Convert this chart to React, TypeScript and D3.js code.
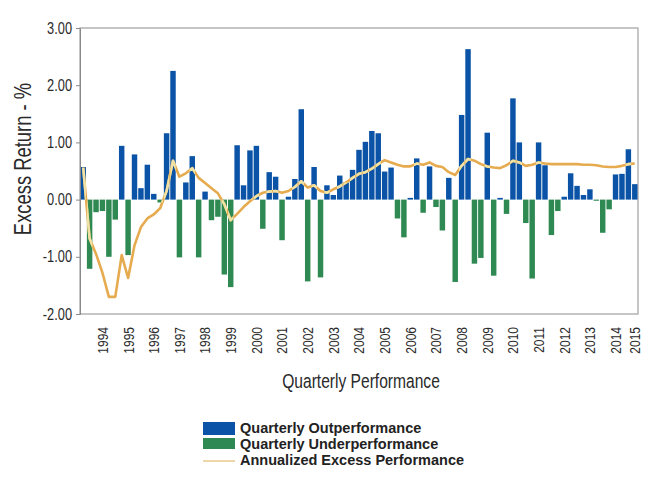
import React, { useEffect, useRef } from "react";
import * as d3 from "d3";

// Quarterly excess return (%) — one value per quarter, 1993Q2 .. 2014Q4
const quarterlyExcess = [
  0.57, -1.21, -0.22, -0.20, -1.00, -0.35, 0.94, -0.97, 0.79, 0.20,
  0.61, 0.10, -0.05, 1.16, 2.25, -1.01, 0.30, 0.76, -1.01, 0.14,
  -0.36, -0.30, -1.31, -1.53, 0.95, 0.25, 0.86, 0.94, -0.51, 0.48,
  0.40, -0.71, 0.05, 0.36, 1.58, -1.43, 0.57, -1.36, 0.25, 0.08,
  0.42, 0.30, 0.52, 0.87, 1.01, 1.20, 1.16, 0.49, 0.56, -0.33,
  -0.66, 0.03, 0.72, -0.23, 0.58, -0.13, -0.54, 0.38, -1.44, 1.48,
  2.63, -1.12, -1.02, 1.17, -1.33, 0.03, -0.25, 1.77, 1.00, -0.41,
  -1.38, 1.00, 0.60, -0.62, -0.20, 0.05, 0.46, 0.24, 0.08, 0.18,
  -0.02, -0.58, -0.17, 0.44, 0.45, 0.88, 0.27,
];

// Annualized excess performance (%) — one value per quarter
const annualizedExcess = [
  0.56, -0.68, -0.95, -1.28, -1.70, -1.70, -0.97, -1.37, -0.80, -0.48,
  -0.33, -0.26, -0.15, 0.15, 0.68, 0.40, 0.46, 0.55, 0.38, 0.29,
  0.20, 0.11, -0.08, -0.36, -0.25, -0.13, -0.03, 0.06, 0.12, 0.14,
  0.15, 0.12, 0.15, 0.22, 0.32, 0.21, 0.25, 0.15, 0.12, 0.18,
  0.23, 0.30, 0.38, 0.45, 0.48, 0.54, 0.62, 0.69, 0.65, 0.61,
  0.58, 0.58, 0.63, 0.61, 0.65, 0.59, 0.57, 0.48, 0.43, 0.59,
  0.71, 0.68, 0.62, 0.58, 0.56, 0.55, 0.60, 0.68, 0.65, 0.59,
  0.61, 0.65, 0.63, 0.62, 0.62, 0.62, 0.62, 0.62, 0.61, 0.61,
  0.60, 0.58, 0.57, 0.57, 0.59, 0.62, 0.63,
];

const firstYear = 1993;
const firstQuarter = 2;
const quarters: string[] = quarterlyExcess.map((_, i) => {
  const q = firstQuarter - 1 + i;
  return `${firstYear + Math.floor(q / 4)}Q${(q % 4) + 1}`;
});

const tickQuarters = [
  "1994Q1", "1995Q1", "1996Q1", "1997Q1", "1998Q1", "1999Q1", "2000Q1",
  "2001Q1", "2002Q1", "2003Q1", "2004Q1", "2005Q1", "2006Q1", "2007Q1",
  "2008Q1", "2009Q1", "2010Q1", "2011Q1", "2012Q1", "2013Q1", "2014Q1", "2014Q4",
];
const tickLabels = [
  "1994", "1995", "1996", "1997", "1998", "1999", "2000", "2001", "2002", "2003",
  "2004", "2005", "2006", "2007", "2008", "2009", "2010", "2011", "2012", "2013",
  "2014", "2015",
];
const yTicks = [-2, -1, 0, 1, 2, 3];

const legendLabels = [
  "Quarterly Outperformance",
  "Quarterly Underperformance",
  "Annualized Excess Performance",
];

const BLUE = "#0B53A6";
const GREEN = "#2E8A52";
const ORANGE = "#E6AB4F";
const PALE = "#EFE2A4";
const SANS = "'Liberation Sans', Arial, sans-serif";
const CONDENSE = 0.8;

export default function App() {
  const ref = useRef<SVGSVGElement>(null);

  useEffect(() => {
    const svg = d3.select(ref.current);
    svg.selectAll("*").remove();

    const left = 80, right = 638, top = 28, bottom = 314;
    const x = d3.scaleBand<string>().domain(quarters).range([left, right])
      .paddingInner(0.15).paddingOuter(0.075);
    const y = d3.scaleLinear().domain([-2, 3]).range([bottom, top]);
    const bw = x.bandwidth();

    // frame
    svg.append("rect")
      .attr("x", left).attr("y", top)
      .attr("width", right - left).attr("height", bottom - top)
      .attr("fill", "none").attr("stroke", "#a0a0a0").attr("stroke-width", 1.2);

    const data = quarters.map((q, i) => ({ q, v: quarterlyExcess[i], a: annualizedExcess[i] }));

    // bars
    svg.append("g").selectAll("rect").data(data).join("rect")
      .attr("x", d => x(d.q)!)
      .attr("width", bw)
      .attr("y", d => y(Math.max(0, d.v)))
      .attr("height", d => Math.abs(y(d.v) - y(0)))
      .attr("fill", d => (d.v >= 0 ? BLUE : GREEN));

    // clip for pale line segments over bars
    const defs = svg.append("defs");
    const clip = defs.append("clipPath").attr("id", "barsClip");
    clip.selectAll("rect").data(data).join("rect")
      .attr("x", d => x(d.q)!)
      .attr("width", bw)
      .attr("y", d => y(Math.max(0, d.v)))
      .attr("height", d => Math.abs(y(d.v) - y(0)));

    const line = d3.line<{ q: string; a: number }>()
      .x(d => x(d.q)! + bw / 2)
      .y(d => y(d.a));

    svg.append("path").datum(data).attr("d", line as any)
      .attr("fill", "none").attr("stroke", ORANGE).attr("stroke-width", 2.6)
      .attr("stroke-linejoin", "round");
    svg.append("path").datum(data).attr("d", line as any)
      .attr("fill", "none").attr("stroke", PALE).attr("stroke-width", 2.6)
      .attr("stroke-linejoin", "round").attr("clip-path", "url(#barsClip)");

    // y axis
    const yAxis = svg.append("g").attr("transform", `translate(${left},0)`)
      .call(d3.axisLeft(y).tickValues(yTicks).tickFormat(d => (d as number).toFixed(2)).tickSize(4));
    yAxis.select(".domain").attr("stroke", "#8a8a8a");
    yAxis.selectAll(".tick line").attr("stroke", "#8a8a8a");
    yAxis.selectAll(".tick text")
      .attr("font-family", SANS).attr("font-size", 16).attr("fill", "#2a2a2a")
      .attr("x", -8 / CONDENSE)
      .attr("transform", `scale(${CONDENSE},1)`);

    // x tick labels
    svg.append("g").selectAll("text").data(tickQuarters).join("text")
      .attr("transform", d => `translate(${x(d)! + bw / 2},327) rotate(-90) scale(${CONDENSE},1)`)
      .attr("text-anchor", "end").attr("dy", "0.36em")
      .attr("font-family", SANS).attr("font-size", 15).attr("fill", "#2a2a2a")
      .text((_, i) => tickLabels[i]);

    // axis titles
    svg.append("text")
      .attr("transform", `translate(361,388) scale(${CONDENSE},1)`).attr("text-anchor", "middle")
      .attr("font-family", SANS).attr("font-size", 19.5).attr("fill", "#2a2a2a")
      .text("Quarterly Performance");
    svg.append("text")
      .attr("transform", `translate(31,159) rotate(-90) scale(${CONDENSE},1)`).attr("text-anchor", "middle")
      .attr("font-family", SANS).attr("font-size", 23).attr("fill", "#2a2a2a")
      .text("Excess Return - %");

    // legend
    const lg = svg.append("g");
    lg.append("rect").attr("x", 203).attr("y", 422).attr("width", 32).attr("height", 13).attr("fill", BLUE);
    lg.append("rect").attr("x", 203).attr("y", 438).attr("width", 32).attr("height", 11).attr("fill", GREEN);
    lg.append("line").attr("x1", 203).attr("x2", 235).attr("y1", 461).attr("y2", 461)
      .attr("stroke", "#E9C98C").attr("stroke-width", 1.5);
    lg.selectAll("text").data(legendLabels).join("text")
      .attr("x", 240).attr("y", (_, i) => 433 + i * 16)
      .attr("font-family", SANS).attr("font-weight", "bold").attr("font-size", 14.5)
      .attr("fill", "#222")
      .text(d => d);
  }, []);

  return (
    <svg ref={ref} width={653} height={487}
      style={{ position: "absolute", left: 0, top: 0, background: "#fff" }} />
  );
}
